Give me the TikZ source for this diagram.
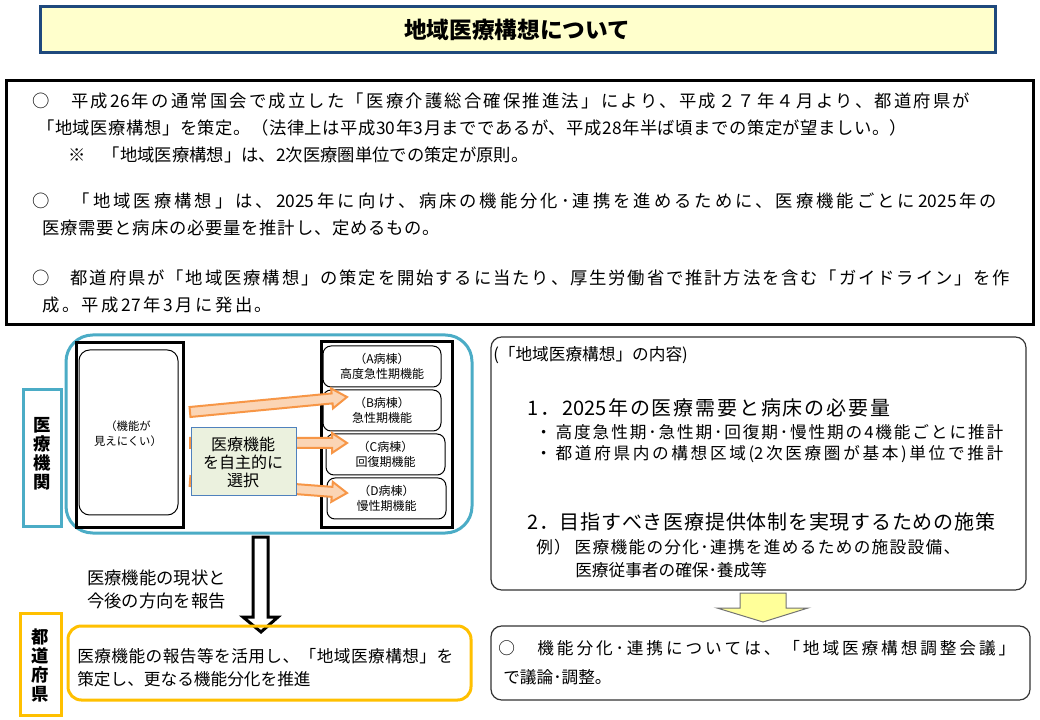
\documentclass[tikz,border=0pt]{standalone}
\usepackage{fontspec}
\setmainfont{Noto Sans CJK JP}
\usetikzlibrary{calc}
\definecolor{ttlfill}{HTML}{FFFFCC}
\definecolor{ttlbd}{HTML}{1F497D}
\definecolor{tealc}{HTML}{4BACC6}
\definecolor{goldc}{HTML}{FFC000}
\definecolor{orbd}{HTML}{F79646}
\definecolor{orfill}{HTML}{FBD5B5}
\definecolor{grfill}{HTML}{EBF1DE}
\definecolor{grbd}{HTML}{4F81BD}
\definecolor{ylw}{HTML}{FFFF99}
\newlength\pxu \setlength\pxu{0.75pt}
\newcount\cjkc
\cjkc="3000 \loop \XeTeXcharclass\cjkc=1 \advance\cjkc by 1 \ifnum\cjkc<"3100 \repeat
\cjkc="4E00 \loop \XeTeXcharclass\cjkc=1 \advance\cjkc by 1 \ifnum\cjkc<"A000 \repeat
\cjkc="FF00 \loop \XeTeXcharclass\cjkc=1 \advance\cjkc by 1 \ifnum\cjkc<"FFF0 \repeat
\XeTeXcharclass"25CB=1 \XeTeXcharclass"203B=1
\XeTeXinterchartoks 0 1 = {\hskip0pt plus 1fil\relax}
\XeTeXinterchartoks 1 0 = {\hskip0pt plus 1fil\relax}
\XeTeXinterchartoks 1 1 = {\hskip0pt plus 1fil\relax}
\newcommand\fitl[2]{\makebox[#1\pxu][s]{\XeTeXinterchartokenstate=1\relax #2}}
\newcommand\blockarr[3]{% tail, tip, headbase
  \draw[orarrow] ($(#1)!3.75pt!90:(#2)$) -- ($(#3)!3.75pt!90:(#2)$) -- ($(#3)!7.5pt!90:(#2)$)
    -- (#2) -- ($(#3)!7.5pt!-90:(#2)$) -- ($(#3)!3.75pt!-90:(#2)$) -- ($(#1)!3.75pt!-90:(#2)$) -- cycle;}
\begin{document}
\begin{tikzpicture}[x=0.75pt,y=-0.75pt,
  mt/.style={font=\fontsize{13}{16}\selectfont, anchor=west, inner sep=0pt},
  rt/.style={font=\fontsize{12.5}{15}\selectfont, anchor=west, inner sep=0pt},
  hd/.style={font=\fontsize{15}{18}\selectfont, anchor=west, inner sep=0pt},
  vlab/.style={font=\fontsize{13}{14.25}\selectfont\bfseries, align=center, inner sep=0pt},
  ward/.style={draw=black, line width=0.75pt, rounded corners=6pt, fill=white},
  wtxt/.style={font=\fontsize{9}{11.25}\selectfont, align=center, inner sep=0pt},
  orarrow/.style={draw=orbd, line width=1.5pt, fill=orfill, line join=miter},
  thick3/.style={line width=2.25pt}
]
\useasboundingbox (0,0) rectangle (1040,720);
\fill[white] (0,0) rectangle (1040,720);
% title
\draw[thick3, draw=ttlbd, fill=ttlfill] (40,7) rectangle (995,53);
\node[font=\fontsize{17}{20}\selectfont\bfseries, inner sep=0pt] (title) at (517,30) {地域医療構想について};
% main text box
\draw[thick3] (6,81) rectangle (1033,325);
\node[mt] (l1) at (32,101) {\fitl{938}{○　平成26年の通常国会で成立した「医療介護総合確保推進法」により、平成２７年４月より、都道府県が}};
\node[mt] (l2) at (37,128) {\fitl{870}{「地域医療構想」を策定。（法律上は平成30年3月までであるが、平成28年半ば頃までの策定が望ましい。）}};
\node[mt] (l3) at (68,155) {\fitl{460}{※　「地域医療構想」は、2次医療圏単位での策定が原則。}};
\node[mt] (l4) at (32,201) {\fitl{965}{○　「地域医療構想」は、2025年に向け、病床の機能分化･連携を進めるために、医療機能ごとに2025年の}};
\node[mt] (l5) at (42,228) {\fitl{398}{医療需要と病床の必要量を推計し、定めるもの。}};
\node[mt] (l6) at (32,278) {\fitl{978}{○　都道府県が「地域医療構想」の策定を開始するに当たり、厚生労働省で推計方法を含む「ガイドライン」を作}};
\node[mt] (l7) at (42,305) {\fitl{230}{成。平成27年3月に発出。}};
% left part: medical institutions
\draw[thick3, draw=tealc] (23,390) rectangle (61,526);
\node[vlab] (kikan) at (42,454) {医\\療\\機\\関};
\draw[thick3, draw=tealc, rounded corners=20pt] (66,335) rectangle (472,533);
\draw[thick3] (76,343) rectangle (183,527);
\draw[ward, rounded corners=8pt] (79,350) rectangle (178,515);
\node[wtxt, font=\fontsize{8.5}{11.25}\selectfont] (mienai) at (128,434) {（機能が\\見えにくい）};
\draw[thick3] (321,342) rectangle (452,527);
\draw[ward] (323,346) rectangle (441,387);
\draw[ward] (323,390) rectangle (441,431);
\draw[ward] (326,434) rectangle (445,475);
\draw[ward] (327,478) rectangle (446,519);
\node[wtxt] (wa) at (382,366.5) {（A病棟）\\高度急性期機能};
\node[wtxt] (wb) at (382,410.5) {（B病棟）\\急性期機能};
\node[wtxt] (wc) at (385.5,454.5) {（C病棟）\\回復期機能};
\node[wtxt] (wd) at (386.5,498.5) {（D病棟）\\慢性期機能};
% orange arrows
\coordinate (t1) at (190,412); \coordinate (h1) at (347,397);
\coordinate (t2) at (190,443); \coordinate (h2) at (347,443);
\coordinate (t3) at (190,481); \coordinate (h3) at (347,493);
\coordinate (b1) at ($(h1)!11.25pt!(t1)$);
\coordinate (b2) at ($(h2)!11.25pt!(t2)$);
\coordinate (b3) at ($(h3)!11.25pt!(t3)$);
\blockarr{t1}{h1}{b1}
\blockarr{t2}{h2}{b2}
\blockarr{t3}{h3}{b3}
\draw[draw=grbd, line width=0.75pt, fill=grfill] (191,428) rectangle (296,496);
\node[font=\fontsize{12}{13.5}\selectfont, align=center, inner sep=0pt] (jishu) at (243,462) {医療機能\\を自主的に\\選択};
% down arrow (white)
\coordinate (da1) at (253,537);
\draw[thick3, fill=white, line join=miter] (da1) -- (268,537) -- (268,617) -- (278,617) -- (261,632) -- (243,617) -- (253,617) -- cycle;
\node[font=\fontsize{13}{17.25}\selectfont, align=left, anchor=north west, inner sep=0pt] (houkoku) at (87,570) {医療機能の現状と\\今後の方向を報告};
% prefecture
\draw[thick3, draw=goldc] (20,613) rectangle (61,715);
\node[vlab] (ken) at (40,665) {都\\道\\府\\県};
\draw[thick3, draw=goldc, rounded corners=10pt] (68,626) rectangle (471,700);
\node[rt] (g1) at (77,656) {\fitl{376}{医療機能の報告等を活用し、「地域医療構想」を}};
\node[rt] (g2) at (77,679) {策定し、更なる機能分化を推進};
% right content box
\draw[line width=0.9pt, draw=black!80, rounded corners=8pt] (491,337) rectangle (1026,590);
\node[rt] (r0) at (493,355) {(「地域医療構想」の内容)};
\node[hd] (r1) at (527,408) {\fitl{363}{1．2025年の医療需要と病床の必要量}};
\node[rt] (r2) at (535,432) {\fitl{468}{・ 高度急性期･急性期･回復期･慢性期の4機能ごとに推計}};
\node[rt] (r3) at (535,454) {\fitl{468}{・ 都道府県内の構想区域(2次医療圏が基本)単位で推計}};
\node[hd] (r4) at (527,522) {\fitl{468}{2．目指すべき医療提供体制を実現するための施策}};
\node[rt] (r5) at (536,547) {\fitl{424}{例） 医療機能の分化･連携を進めるための施設設備、}};
\node[rt] (r6) at (575,570) {医療従事者の確保･養成等};
% yellow arrow
\draw[line width=0.75pt, draw=black!55, fill=ylw, line join=miter] (740,593) -- (786,593) -- (786,608) -- (808,608) -- (763,622) -- (717,608) -- (740,608) -- cycle;
% bottom right box
\draw[line width=0.9pt, draw=black!80, rounded corners=8pt] (491,626) rectangle (1030,700);
\node[rt] (s1) at (498,648) {\fitl{517}{○　機能分化･連携については、「地域医療構想調整会議」}};
\node[rt] (s2) at (503,677) {で議論･調整。};
\end{tikzpicture}
\end{document}
